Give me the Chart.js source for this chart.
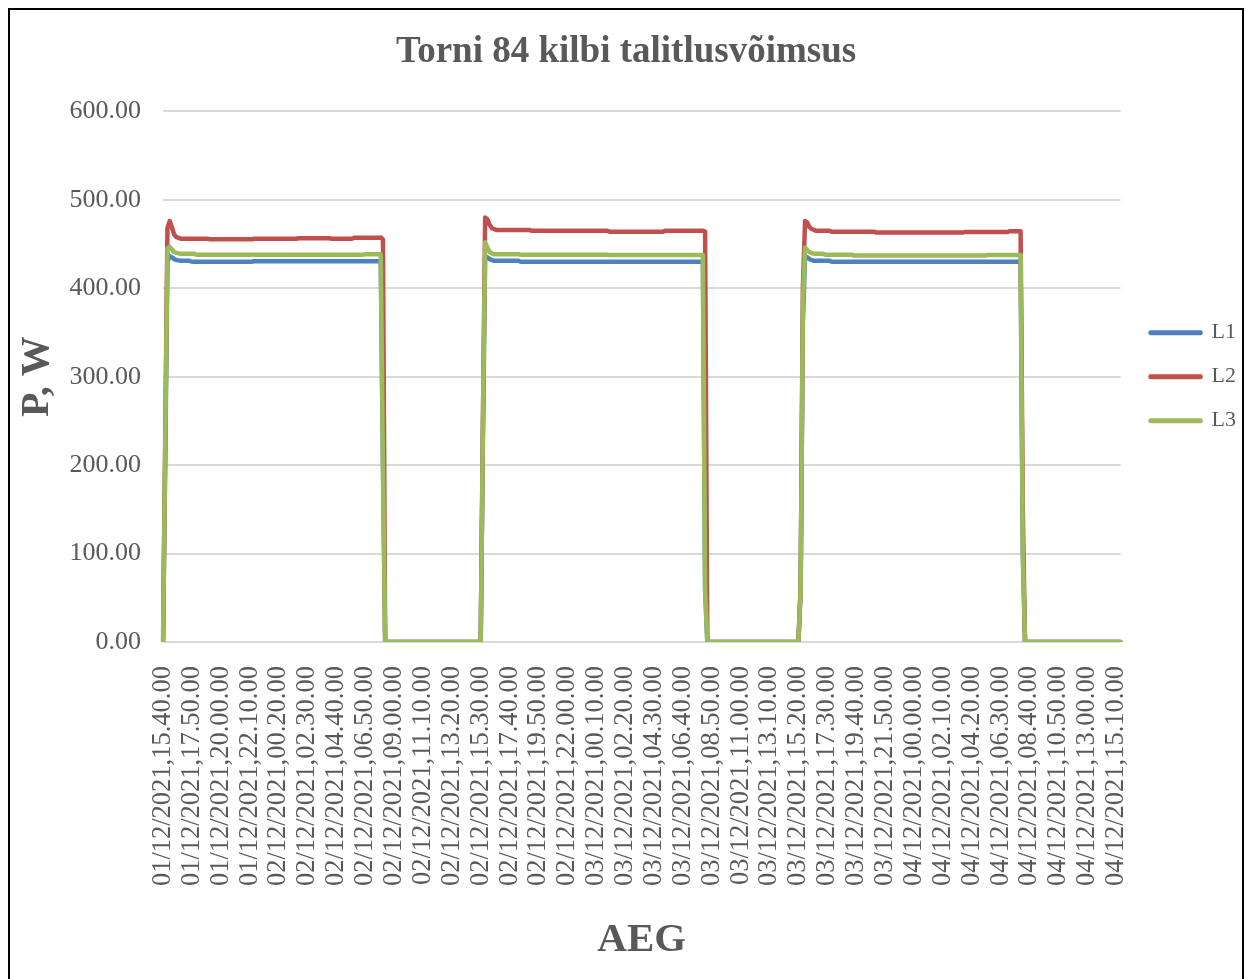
<!DOCTYPE html>
<html lang="et">
<head>
<meta charset="utf-8">
<title>Torni 84 kilbi talitlusvõimsus</title>
<script src="https://cdn.jsdelivr.net/npm/chart.js"></script>
<style>
    html, body { margin: 0; padding: 0; background: #fff; overflow: hidden; }
    #raam { position: absolute; left: 8px; top: 8px; width: 1232px; height: 1000px; border: 2px solid #000; }
    #wrap { position: absolute; left: 0; top: 0; width: 1246px; height: 979px; }
</style>
</head>
<body>
<div id="raam"></div>
<div id="wrap"><canvas id="kilbiChart" width="1246" height="979"></canvas></div>
<script>
// 10-minute averages starting 01/12/2021 15.40.00
const pointCount = 432;
const labelEvery = 13;

const tickLabels = [
    '01/12/2021,15.40.00', '01/12/2021,17.50.00', '01/12/2021,20.00.00', '01/12/2021,22.10.00',
    '02/12/2021,00.20.00', '02/12/2021,02.30.00', '02/12/2021,04.40.00', '02/12/2021,06.50.00',
    '02/12/2021,09.00.00', '02/12/2021,11.10.00', '02/12/2021,13.20.00', '02/12/2021,15.30.00',
    '02/12/2021,17.40.00', '02/12/2021,19.50.00', '02/12/2021,22.00.00', '03/12/2021,00.10.00',
    '03/12/2021,02.20.00', '03/12/2021,04.30.00', '03/12/2021,06.40.00', '03/12/2021,08.50.00',
    '03/12/2021,11.00.00', '03/12/2021,13.10.00', '03/12/2021,15.20.00', '03/12/2021,17.30.00',
    '03/12/2021,19.40.00', '03/12/2021,21.50.00', '04/12/2021,00.00.00', '04/12/2021,02.10.00',
    '04/12/2021,04.20.00', '04/12/2021,06.30.00', '04/12/2021,08.40.00', '04/12/2021,10.50.00',
    '04/12/2021,13.00.00', '04/12/2021,15.10.00'
];

// Phase power in W, stored as [value, number of consecutive samples]
const runsL1 = [
    [0, 1], [200, 1], [430, 1], [436, 1], [435, 1], [433, 1], [432, 1], [431.5, 1],
    [431, 5], [430, 28], [430.5, 58], [200, 1],
    [0, 44],
    [230, 1], [436, 1], [435, 1], [433, 1], [432, 1], [431, 12], [430, 83], [60, 1],
    [0, 42],
    [60, 1], [360, 1], [436, 1], [435, 1], [433, 1], [432, 1], [431, 8], [430, 86], [100, 1],
    [0, 44]
];

const runsL2 = [
    [0, 1], [230, 1], [468, 1], [476, 1], [469, 1], [461, 1], [458, 1], [457, 1],
    [456, 13], [455.5, 20], [456, 20], [456.5, 15], [456, 10], [457, 12], [457.5, 1], [455, 1],
    [0, 44],
    [250, 1], [480, 1], [478, 1], [472, 1], [468, 1], [467, 1],
    [466, 16], [465, 35], [464, 25], [465, 18], [464, 1],
    [0, 42],
    [60, 1], [400, 1], [476, 1], [474, 1], [469, 1], [467, 1], [466, 1],
    [465, 7], [464, 20], [463, 40], [463.5, 20], [464.5, 6], [150, 1],
    [0, 44]
];

const runsL3 = [
    [0, 1], [220, 1], [445, 1], [447, 1], [444, 1], [441, 1], [440, 1], [439.5, 1],
    [439, 7], [438, 76], [438.5, 8], [200, 1],
    [0, 44],
    [250, 1], [452, 1], [446, 1], [441, 1], [439.5, 1], [438.5, 12], [438, 40], [437.5, 43], [60, 1],
    [0, 42],
    [60, 1], [380, 1], [446, 1], [443, 1], [441, 1], [440, 1],
    [439, 5], [438, 13], [437, 60], [437.5, 16], [100, 1],
    [0, 44]
];

/**
 * Unpacks [value, count] runs into a flat list of samples.
 */
function expandRuns(runs) {
    const out = [];
    runs.forEach(([value, count]) => {
        for (let k = 0; k < count; k++) out.push(value);
    });
    return out;
}

// only every 13th sample gets a visible time stamp
const categories = Array.from({ length: pointCount }, (_, i) =>
    i % labelEvery === 0 ? tickLabels[i / labelEvery] : '');

const textColor = '#595959';
const serif = 'Liberation Serif, Times New Roman, serif';

// small gap between plot and legend
const legendGap = {
    id: 'legendGap',
    afterLayout(chart) {
        chart.legend.left += 8;
        chart.legend.right += 8;
    }
};

function makeSeries(label, runs, color, order) {
    return {
        label: label,
        data: expandRuns(runs),
        borderColor: color,
        backgroundColor: color,
        borderWidth: 4.5,
        pointRadius: 0,
        borderJoinStyle: 'round',
        borderCapStyle: 'round',
        tension: 0,
        order: order
    };
}

const ctx = document.getElementById('kilbiChart').getContext('2d');
new Chart(ctx, {
    type: 'line',
    data: {
        labels: categories,
        datasets: [
            makeSeries('L1', runsL1, '#4F81BD', 3),
            makeSeries('L2', runsL2, '#C0504D', 2),
            makeSeries('L3', runsL3, '#9BBB59', 1)
        ]
    },
    plugins: [legendGap],
    options: {
        responsive: false,
        animation: false,
        devicePixelRatio: 1,
        events: [],
        layout: { padding: { top: 11, left: 14, right: 8, bottom: 0 } },
        plugins: {
            title: {
                display: true,
                text: 'Torni 84 kilbi talitlusvõimsus',
                color: textColor,
                font: { family: serif, size: 37, weight: 'bold' },
                padding: { top: 19, bottom: 37 }
            },
            legend: {
                position: 'right',
                fullSize: false,
                labels: {
                    color: textColor,
                    font: { family: serif, size: 22 },
                    boxWidth: 50,
                    boxHeight: 0.5,
                    padding: 22,
                    sort: (a, b) => a.datasetIndex - b.datasetIndex
                }
            },
            tooltip: { enabled: false }
        },
        scales: {
            x: {
                offset: false,
                grid: { display: false },
                border: { display: false },
                ticks: {
                    autoSkip: false,
                    minRotation: 90,
                    maxRotation: 90,
                    padding: 16,
                    color: textColor,
                    font: { family: serif, size: 26.5 }
                },
                title: {
                    display: true,
                    text: 'AEG',
                    color: textColor,
                    font: { family: serif, size: 41, weight: 'bold' },
                    padding: { top: 0, bottom: 14 }
                },
                afterFit(scale) { scale.height = 337; }
            },
            y: {
                min: 0,
                max: 600,
                ticks: {
                    stepSize: 100,
                    padding: 22,
                    color: textColor,
                    font: { family: serif, size: 26 },
                    callback: (v) => v.toFixed(2)
                },
                grid: { color: '#d9d9d9', lineWidth: 2, drawTicks: false },
                border: { display: false },
                title: {
                    display: true,
                    text: 'P, W',
                    color: textColor,
                    font: { family: serif, size: 40, weight: 'bold' },
                    padding: 0
                },
                afterFit(scale) { scale.width = 149; }
            }
        }
    }
});
</script>
</body>
</html>
